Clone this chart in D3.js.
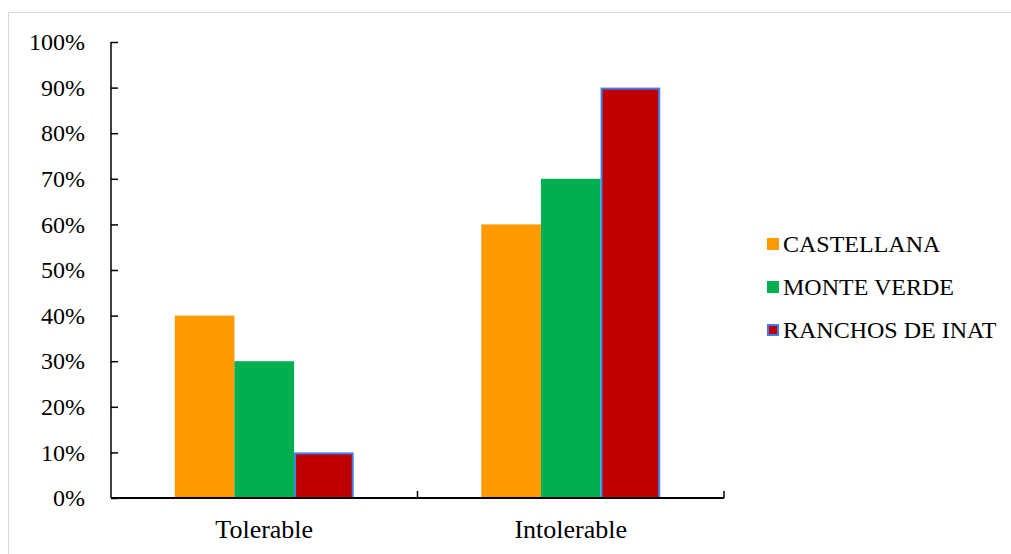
<!DOCTYPE html>
<html><head><meta charset="utf-8">
<script src="https://cdn.jsdelivr.net/npm/d3@7"></script>
<style>body{margin:0;background:#fff}svg{display:block}svg text{font-family:"Liberation Serif","Times New Roman",serif}</style>
</head><body>
<svg id="c" width="1011" height="554"></svg>
<script>
const categories = ["Tolerable", "Intolerable"];
const seriesNames = ["CASTELLANA", "MONTE VERDE", "RANCHOS DE INAT"];
const castellana = [40, 60];
const monteVerde = [30, 70];
const ranchos = [10, 90];
const yTicks = [0, 10, 20, 30, 40, 50, 60, 70, 80, 90, 100];
const colors = ["#ff9900", "#00b050", "#c00000"];
const strokes = [null, null, "#3d7fef"];

const seriesValues = [castellana, monteVerde, ranchos];
const svg = d3.select("#c");
const fs = 24;

svg.append("rect").attr("x", 8.5).attr("y", 12.5).attr("width", 1010).attr("height", 560)
  .attr("fill", "#fff").attr("stroke", "#d9d9d9").attr("stroke-width", 1);

const x0 = d3.scaleBand().domain(categories).range([111, 724]).paddingInner(0).paddingOuter(0);
const x1 = d3.scaleBand().domain(seriesNames).range([0, x0.bandwidth()]).paddingInner(0).paddingOuter(1.07);
const y = d3.scaleLinear().domain([0, 100]).range([498, 42]);

// bars
categories.forEach((c, ci) => {
  seriesNames.forEach((s, si) => {
    const v = seriesValues[si][ci];
    const r = svg.append("rect")
      .attr("x", x0(c) + x1(s))
      .attr("y", y(v))
      .attr("width", x1.bandwidth())
      .attr("height", y(0) - y(v))
      .attr("fill", colors[si]);
    if (strokes[si]) {
      r.attr("x", x0(c) + x1(s) + 1).attr("y", y(v) + 1)
       .attr("width", x1.bandwidth() - 2).attr("height", y(0) - y(v) - 1)
       .attr("stroke", strokes[si]).attr("stroke-width", 2);
    }
  });
});

// y axis
const yAxis = d3.axisRight(y).tickValues(yTicks).tickSize(7).tickFormat("");
const gy = svg.append("g").attr("transform", "translate(111,0)").call(yAxis);
gy.select(".domain").attr("stroke", "#000").attr("stroke-width", 1.5).attr("d", `M0,${y(100)}V${y(0)}`);
gy.selectAll(".tick line").attr("stroke", "#000").attr("stroke-width", 1.5);
svg.append("g").selectAll("text").data(yTicks).join("text")
  .attr("x", 85).attr("y", d => y(d)).attr("dy", "0.34em")
  .attr("text-anchor", "end").attr("font-size", fs)
  .attr("fill", "#000").text(d => d + "%");

// x axis
const gx = svg.append("g").attr("transform", `translate(0,${y(0)})`);
gx.append("line").attr("x1", 111).attr("x2", 724).attr("stroke", "#000").attr("stroke-width", 2);
const boundaries = [x0(categories[1]), x0(categories[1]) + x0.bandwidth()];
gx.selectAll("line.t").data(boundaries).join("line").attr("class", "t")
  .attr("x1", d => d).attr("x2", d => d).attr("y1", 0).attr("y2", -7)
  .attr("stroke", "#000").attr("stroke-width", 1.5);
gx.selectAll("text").data(categories).join("text")
  .attr("x", d => x0(d) + x0.bandwidth() / 2).attr("y", 40)
  .attr("text-anchor", "middle").attr("font-size", 26)
  .attr("fill", "#000").text(d => d);

// legend
const lg = svg.append("g");
seriesNames.forEach((s, i) => {
  const yy = 244 + i * 43;
  const r = lg.append("rect").attr("x", 767).attr("y", yy - 6).attr("width", 12).attr("height", 12).attr("fill", colors[i]);
  if (strokes[i]) r.attr("x", 768).attr("y", yy - 5).attr("width", 10).attr("height", 10).attr("stroke", strokes[i]).attr("stroke-width", 2);
  lg.append("text").attr("x", 783).attr("y", yy).attr("dy", "0.34em")
    .attr("font-size", fs).attr("fill", "#000").text(s);
});
</script>
</body></html>
